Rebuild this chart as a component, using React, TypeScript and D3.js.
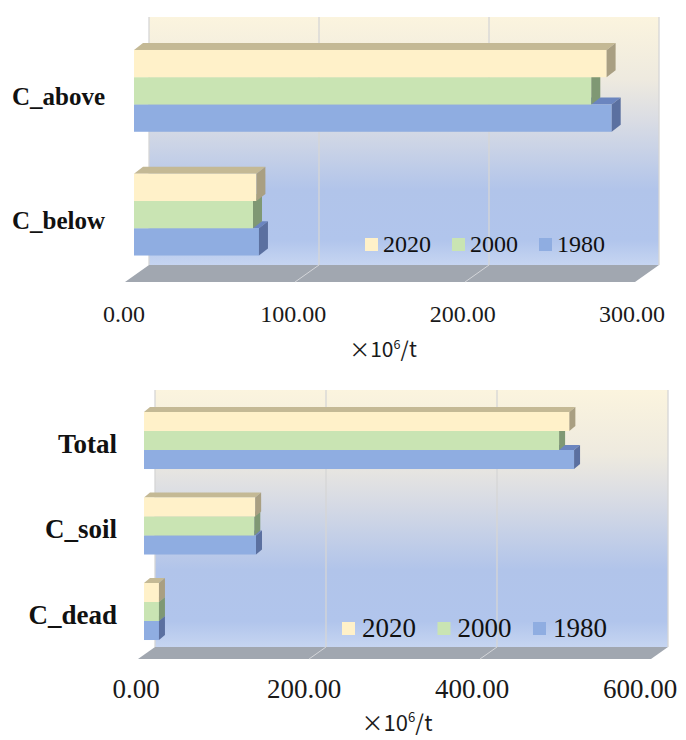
import React from 'react';
import * as d3 from 'd3';

// ---------- data ----------
const seriesNames = ['2020', '2000', '1980'];

const topCategories = ['C_above', 'C_below'];
const top2020 = [278, 72];
const top2000 = [269, 70];
const top1980 = [281, 73.5];
const topTicks = [0, 100, 200, 300];

const bottomCategories = ['Total', 'C_soil', 'C_dead'];
const bottom2020 = [497.5, 130, 17.5];
const bottom2000 = [485.5, 129, 17.5];
const bottom1980 = [503, 131, 17.5];
const bottomTicks = [0, 200, 400, 600];

const unitMain = '×10';
const unitSup = '6';
const unitTail = '/t';

// ---------- styles ----------
const colors: Record<string, { front: string; top: string; end: string }> = {
  '2020': { front: '#fff1c9', top: '#c4b995', end: '#a99f82' },
  '2000': { front: '#c9e4b3', top: '#9fb78f', end: '#7f9874' },
  '1980': { front: '#8fade1', top: '#6b85bf', end: '#5b70a0' },
};
const serif = "'Liberation Serif', 'Times New Roman', 'DejaVu Serif', serif";

type Cfg = {
  id: string;
  categories: string[];
  values: Record<string, number[]>;
  ticks: number[];
  wall: { x0: number; x1: number; y0: number; y1: number };
  floor: { dx: number; dy: number };
  bar: { x0: number; dx: number; dy: number };
  band: { y0: number; y1: number; frac: number };
  tickLab: { x0: number; x1: number; y: number; size: number };
  unit: { x: number; y: number; size: number };
  cat: { x: number; dy: number; size: number };
  legend: { x: number; step: number; sqY: number; sq: number; size: number; textDx: number; baseline: number };
};

const topCfg: Cfg = {
  id: 'top',
  categories: topCategories,
  values: { '2020': top2020, '2000': top2000, '1980': top1980 },
  ticks: topTicks,
  wall: { x0: 149, x1: 659, y0: 17, y1: 265 },
  floor: { dx: -24, dy: 17 },
  bar: { x0: 134, dx: 9, dy: -7 },
  band: { y0: 29, y1: 276.5, frac: 0.661 },
  tickLab: { x0: 124, x1: 632, y: 322, size: 24 },
  unit: { x: 383, y: 357, size: 21 },
  cat: { x: 105, dy: 14.5, size: 25 },
  legend: { x: 365, step: 87, sqY: 238, sq: 13, size: 24, textDx: 18, baseline: 252 },
};

const bottomCfg: Cfg = {
  id: 'bottom',
  categories: bottomCategories,
  values: { '2020': bottom2020, '2000': bottom2000, '1980': bottom1980 },
  ticks: bottomTicks,
  wall: { x0: 155, x1: 668, y0: 390, y1: 647 },
  floor: { dx: -17, dy: 12 },
  bar: { x0: 144, dx: 6, dy: -5 },
  band: { y0: 397.75, y1: 654.25, frac: 0.667 },
  tickLab: { x0: 136, x1: 640, y: 698, size: 27 },
  unit: { x: 397, y: 731, size: 22 },
  cat: { x: 117, dy: 12, size: 27 },
  legend: { x: 342, step: 95.5, sqY: 622, sq: 13, size: 27, textDx: 20, baseline: 637 },
};

const pts = (p: number[][]) => p.map((q) => q.join(',')).join(' ');

function Chart({ cfg }: { cfg: Cfg }) {
  const max = cfg.ticks[cfg.ticks.length - 1];
  const { wall, floor, bar } = cfg;
  const xBack = d3.scaleLinear().domain([0, max]).range([wall.x0, wall.x1]);
  const xBar = d3.scaleLinear().domain([0, max]).range([bar.x0, bar.x0 + (wall.x1 - wall.x0)]);
  const xLab = d3.scaleLinear().domain([0, max]).range([cfg.tickLab.x0, cfg.tickLab.x1]);
  const yCat = d3.scaleBand<string>().domain(cfg.categories).range([cfg.band.y0, cfg.band.y1]);
  const groupH = yCat.bandwidth() * cfg.band.frac;
  const ySer = d3.scaleBand<string>().domain(seriesNames).range([0, groupH]);
  const fmt = d3.format('.2f');
  const gid = `wallgrad-${cfg.id}`;
  const fy0 = wall.y1;
  const fy1 = wall.y1 + floor.dy;

  return (
    <g>
      <defs>
        <linearGradient id={gid} x1="0" y1="0" x2="0" y2="1">
          <stop offset="0" stopColor="#fbf4de" />
          <stop offset="0.25" stopColor="#eeeadf" />
          <stop offset="0.42" stopColor="#d9dce4" />
          <stop offset="0.7" stopColor="#b1c4ea" />
          <stop offset="0.9" stopColor="#b1c5ec" />
          <stop offset="1" stopColor="#c6d5f1" />
        </linearGradient>
      </defs>
      {/* back wall */}
      <rect x={wall.x0} y={wall.y0} width={wall.x1 - wall.x0} height={wall.y1 - wall.y0} fill={`url(#${gid})`} />
      {cfg.ticks.map((t) => (
        <line key={`g${t}`} x1={xBack(t)} x2={xBack(t)} y1={wall.y0} y2={wall.y1} stroke="#d6d6d6" strokeWidth={1.3} />
      ))}
      {/* floor */}
      <polygon
        points={pts([
          [wall.x0, fy0],
          [wall.x1, fy0],
          [wall.x1 + floor.dx, fy1],
          [wall.x0 + floor.dx, fy1],
        ])}
        fill="#a1a7b0"
      />
      {cfg.ticks.slice(1, -1).map((t) => (
        <line key={`f${t}`} x1={xBack(t)} y1={fy0} x2={xBack(t) + floor.dx} y2={fy1} stroke="#d4d6da" strokeWidth={1} />
      ))}
      {/* bars */}
      {cfg.categories.map((c, i) => {
        const gy = (yCat(c) as number) + (yCat.bandwidth() - groupH) / 2;
        return (
          <g key={c}>
            {[...seriesNames].reverse().map((s) => {
              const v = cfg.values[s][i];
              const y0 = gy + (ySer(s) as number);
              const h = ySer.bandwidth();
              const x0 = xBar(0);
              const x1 = xBar(v);
              const col = colors[s];
              return (
                <g key={s}>
                  <polygon
                    points={pts([
                      [x0, y0],
                      [x0 + bar.dx, y0 + bar.dy],
                      [x1 + bar.dx, y0 + bar.dy],
                      [x1, y0],
                    ])}
                    fill={col.top}
                  />
                  <rect x={x0} y={y0} width={x1 - x0} height={h} fill={col.front} />
                  <polygon
                    points={pts([
                      [x1, y0],
                      [x1 + bar.dx, y0 + bar.dy],
                      [x1 + bar.dx, y0 + h + bar.dy],
                      [x1, y0 + h],
                    ])}
                    fill={col.end}
                  />
                </g>
              );
            })}
          </g>
        );
      })}
      {/* category labels */}
      {cfg.categories.map((c) => (
        <text
          key={`l${c}`}
          x={cfg.cat.x}
          y={(yCat(c) as number) + yCat.bandwidth() / 2 + cfg.cat.dy}
          textAnchor="end"
          fontFamily={serif}
          fontWeight="bold"
          fontSize={cfg.cat.size}
          fill="#111"
        >
          {c}
        </text>
      ))}
      {/* tick labels */}
      {cfg.ticks.map((t) => (
        <text key={`t${t}`} x={xLab(t)} y={cfg.tickLab.y} textAnchor="middle" fontFamily={serif} fontSize={cfg.tickLab.size} fill="#1a1a1a">
          {fmt(t)}
        </text>
      ))}
      {/* unit */}
      <text x={cfg.unit.x} y={cfg.unit.y} textAnchor="middle" fontFamily="'Noto Sans CJK SC', 'Noto Sans', sans-serif" fontSize={cfg.unit.size} fill="#1a1a1a">
        {unitMain}
        <tspan fontSize={cfg.unit.size * 0.6} dy={-cfg.unit.size * 0.4}>{unitSup}</tspan>
        <tspan dy={cfg.unit.size * 0.4}>{unitTail}</tspan>
      </text>
      {/* legend */}
      {seriesNames.map((s, k) => {
        const lx = cfg.legend.x + k * cfg.legend.step;
        return (
          <g key={`lg${s}`}>
            <rect x={lx} y={cfg.legend.sqY} width={cfg.legend.sq} height={cfg.legend.sq} fill={colors[s].front} />
            <text x={lx + cfg.legend.textDx} y={cfg.legend.baseline} fontFamily={serif} fontSize={cfg.legend.size} fill="#111">
              {s}
            </text>
          </g>
        );
      })}
    </g>
  );
}

export default function App() {
  return (
    <svg width={686} height={740} style={{ position: 'absolute', left: 0, top: 0, background: '#fff' }}>
      <rect x={0} y={0} width={686} height={740} fill="#fff" />
      <Chart cfg={topCfg} />
      <Chart cfg={bottomCfg} />
    </svg>
  );
}
